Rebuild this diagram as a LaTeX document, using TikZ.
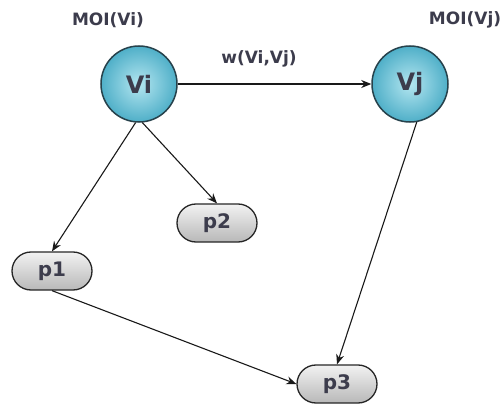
\documentclass[tikz,border=0pt]{standalone}
\usepackage{fontspec}
\setmainfont{DejaVu Sans}
\usetikzlibrary{shapes.misc,arrows.meta,shadings}
\definecolor{txt}{HTML}{3C3C4C}
\definecolor{ballin}{HTML}{B4E6F0}
\definecolor{ballout}{HTML}{4FAFC8}
\definecolor{ballrim}{HTML}{27424C}
\definecolor{pilltop}{HTML}{F2F2F2}
\definecolor{pillbot}{HTML}{B8B8B8}
\tikzset{
  vert/.style={circle, draw=ballrim, line width=1.5pt, minimum size=76pt, inner sep=0pt,
    inner color=ballin, outer color=ballout, text=txt, font=\bfseries\fontsize{24}{26}\selectfont},
  pill/.style={rounded rectangle, draw=black!85, line width=1.3pt, minimum width=80pt, minimum height=38pt,
    inner sep=0pt, top color=pilltop, bottom color=pillbot, text=txt, font=\bfseries\fontsize{20}{22}\selectfont},
  lbl/.style={text=txt, font=\bfseries\fontsize{17}{19}\selectfont, inner sep=0pt},
  conn/.style={draw=black!90, line width=1.1pt, -{Stealth[length=10pt,width=8pt]}}
}
\begin{document}
\begin{tikzpicture}[x=1pt,y=-1pt]
\useasboundingbox (0,0) rectangle (504,412);
\node[vert] (vi) at (139,84) {Vi};
\node[vert] (vj) at (410,84) {Vj};
\node[lbl] (moii) at (108,20) {MOI(Vi)};
\node[lbl] (moij) at (465,20) {MOI(Vj)};
\node[pill] (p2) at (217,223) {p2};
\node[pill] (p1) at (52,271) {p1};
\node[pill] (p3) at (337,384) {p3};
\draw[conn] (vi) -- node[lbl, pos=0.42, above=16pt] (w) {w(Vi,Vj)} (vj);
\draw[conn] (vi.-95) -- (p1.north);
\draw[conn] (vi.-85) -- (p2.north);
\draw[conn] (vj.-80) -- (p3.north);
\draw[conn] (p1.south) -- (p3.west);
\end{tikzpicture}
\end{document}
